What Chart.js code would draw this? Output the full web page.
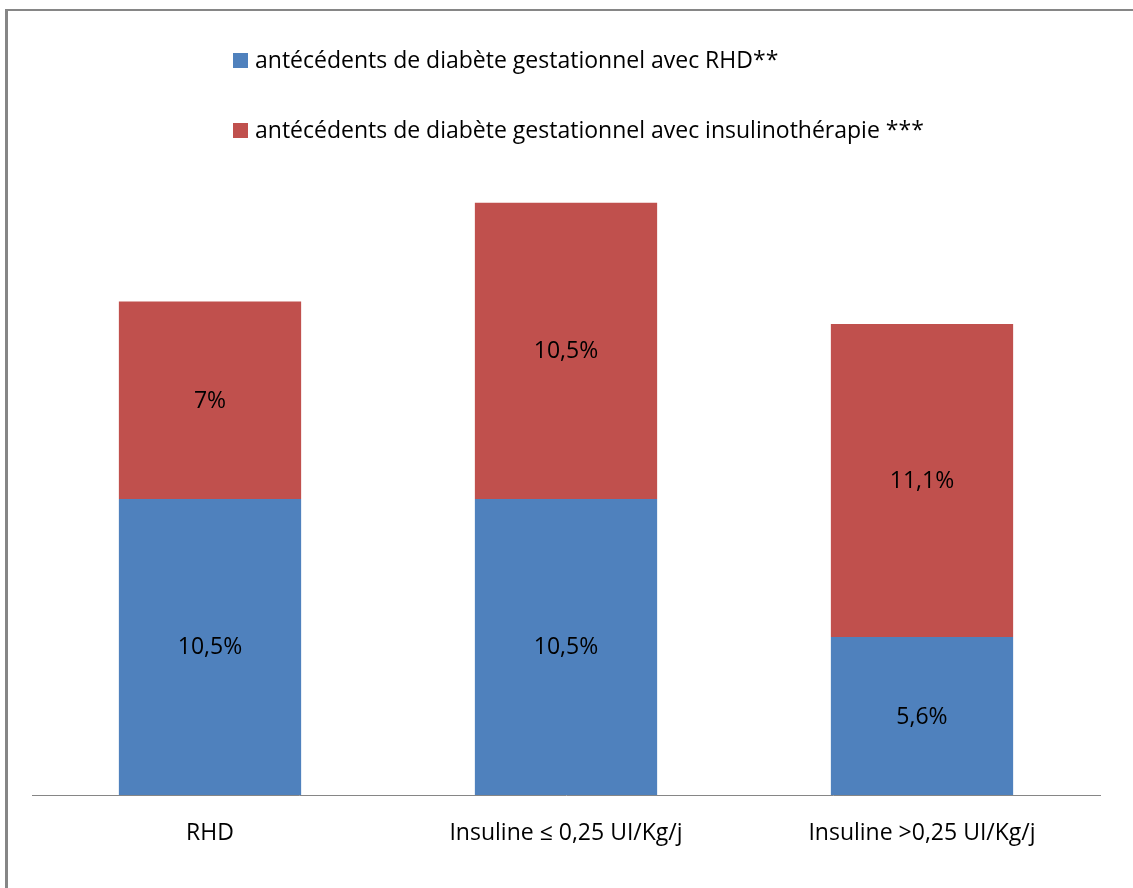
<!DOCTYPE html>
<html>
<head>
<meta charset="utf-8">
<script src="https://cdn.jsdelivr.net/npm/chart.js@4"></script>
<style>
  html, body { margin: 0; padding: 0; background: #fff; }
  #wrap { position: relative; width: 1133px; height: 888px; overflow: hidden; }
  #frame { position: absolute; left: 5px; top: 9px; width: 1200px; height: 1000px; border-top: 2px solid #868686; border-left: 3px solid #868686; }
  canvas { position: absolute; left: 0; top: 0; }
</style>
</head>
<body>
<div id="wrap">
  <div id="frame"></div>
  <canvas id="chart" width="1133" height="888"></canvas>
</div>
<script>
const categories = ['RHD', 'Insuline \u2264 0,25 UI/Kg/j', 'Insuline >0,25 UI/Kg/j'];
const seriesNames = [
    'antécédents de diabète gestationnel avec RHD**',
    'antécédents de diabète gestationnel avec insulinothérapie ***'
];
const rhdValues = [10.5, 10.5, 5.6];
const insulineValues = [7, 10.5, 11.1];
const seriesColors = ['#4F81BD', '#C0504D'];

const FONT = '"Open Sans", sans-serif';

// legende dessinée à la main (deux lignes alignées à gauche)
const legendPlugin = {
    id: 'legendManuelle',
    afterDraw(chart) {
        const ctx = chart.ctx;
        ctx.save();
        ctx.font = '23px ' + FONT;
        ctx.textBaseline = 'middle';
        ctx.textAlign = 'left';
        chart.data.datasets.forEach((ds, i) => {
            const y = 60 + i * 70;
            ctx.fillStyle = ds.backgroundColor;
            ctx.fillRect(233, y - 7, 15, 15);
            ctx.fillStyle = '#000';
            ctx.fillText(ds.label, 255, y + 1);
        });
        ctx.restore();
    }
};

// étiquettes de valeur au centre des segments
const valeursPlugin = {
    id: 'valeurs',
    afterDatasetsDraw(chart) {
        const ctx = chart.ctx;
        ctx.save();
        ctx.font = '23px ' + FONT;
        ctx.fillStyle = '#000';
        ctx.textAlign = 'center';
        ctx.textBaseline = 'middle';
        chart.data.datasets.forEach((ds, i) => {
            chart.getDatasetMeta(i).data.forEach((bar, j) => {
                const txt = String(ds.data[j]).replace('.', ',') + '%';
                ctx.fillText(txt, bar.x, (bar.y + bar.base) / 2 + 1);
            });
        });
        ctx.restore();
    }
};

const ctx = document.getElementById('chart').getContext('2d');
new Chart(ctx, {
    type: 'bar',
    data: {
        labels: categories,
        datasets: [
            { label: seriesNames[0], data: rhdValues, backgroundColor: seriesColors[0] },
            { label: seriesNames[1], data: insulineValues, backgroundColor: seriesColors[1] }
        ]
    },
    options: {
        responsive: false,
        animation: false,
        layout: { padding: { left: 32, right: 33, top: 90, bottom: 0 } },
        categoryPercentage: 1,
        barPercentage: 0.512,
        scales: {
            x: {
                stacked: true,
                grid: { display: false, drawTicks: false },
                border: { display: true, color: '#868686', width: 1 },
                ticks: { color: '#000', font: { family: FONT, size: 23 }, padding: 25, maxRotation: 0 },
                afterFit: s => { s.height = 93; }
            },
            y: {
                stacked: true,
                display: false,
                min: 0,
                max: 25
            }
        },
        plugins: {
            legend: { display: false },
            tooltip: { enabled: false }
        }
    },
    plugins: [legendPlugin, valeursPlugin]
});
</script>
</body>
</html>
